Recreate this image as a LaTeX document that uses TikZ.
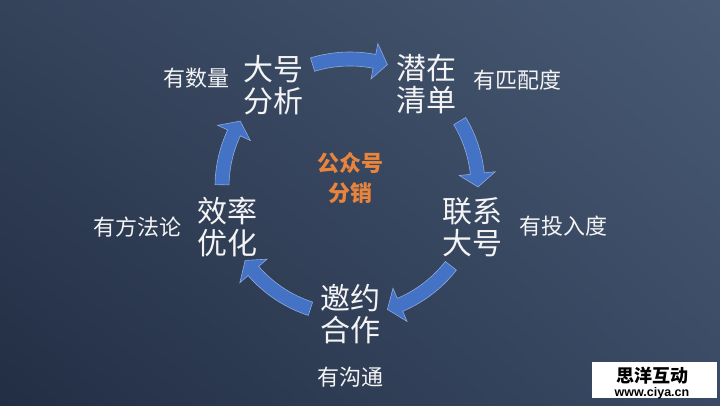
\documentclass[tikz,border=0pt]{standalone}
\usepackage{fontspec}
\newfontfamily\cjk{Noto Sans CJK SC}
\newfontfamily\wmfont{Liberation Sans}
\usetikzlibrary{calc,shadings}
\definecolor{bgul}{HTML}{34425A}
\definecolor{bgur}{HTML}{485A74}
\definecolor{bgll}{HTML}{222E44}
\definecolor{bglr}{HTML}{3A4A64}
\definecolor{arrowblue}{HTML}{4472C4}
\definecolor{arrowedge}{HTML}{8EAADE}
\definecolor{centerorange}{HTML}{E8843C}
\definecolor{textwhite}{HTML}{F4F4F4}
\tikzset{
  stagebox/.style={inner sep=0pt, align=center, text=textwhite, font=\cjk\fontsize{30}{32}\selectfont},
  notebox/.style={inner sep=0pt, text=textwhite, font=\cjk\fontsize{22}{24}\selectfont},
  centerbox/.style={inner sep=0pt, align=center, text=centerorange, font=\cjk\bfseries\fontsize{22}{30}\selectfont},
  cyclearrow/.style={fill=arrowblue, draw=arrowedge, line width=0.6pt, line join=miter},
}
\newcommand\cycarrow[2]{%
  \pgfmathsetmacro\hb{#2+6}%
  \filldraw[cyclearrow] ($(C)+(#1:135)$) arc[start angle=#1, end angle=\hb, radius=135pt]
    -- ($(C)+(\hb:146)$) -- ($(C)+(#2:128)$) -- ($(C)+(\hb:110)$) -- ($(C)+(\hb:121)$)
    arc[start angle=\hb, end angle=#1, radius=121pt] -- cycle;
}
\begin{document}
\begin{tikzpicture}[x=1pt,y=1pt]
\useasboundingbox (0,0) rectangle (720,405);
\shade[upper left=bgul, upper right=bgur, lower left=bgll, lower right=bglr] (0,0) rectangle (720,405);
\coordinate (C) at (350,218);
% cycle arrows
\cycarrow{107}{73}
\cycarrow{31}{0}
\cycarrow{-38}{-73}
\cycarrow{-108}{-145}
\cycarrow{179}{149}
% stages
\node[stagebox] (n1) at (273,320) {大号\\分析};
\node[stagebox] (n2) at (426,321) {潜在\\清单};
\node[stagebox] (n3) at (472,178) {联系\\大号};
\node[stagebox] (n4) at (350,91) {邀约\\合作};
\node[stagebox] (n5) at (227,178) {效率\\优化};
% notes
\node[notebox] (l1) at (196,327) {有数量};
\node[notebox] (l2) at (517,325) {有匹配度};
\node[notebox] (l3) at (563,179) {有投入度};
\node[notebox] (l4) at (350,28) {有沟通};
\node[notebox] (l5) at (137,178) {有方法论};
% center
\node[centerbox] (ctr) at (350,227) {公众号\\分销};
% watermark
\node[fill=white, minimum width=125pt, minimum height=36pt, inner sep=0pt] (wm) at (654.5,25) {};
\node[inner sep=0pt, font=\cjk\bfseries\fontsize{18}{18}\selectfont, text=black] (wmt) at (652,29) {思洋互动};
\node[inner sep=0pt, font=\wmfont\bfseries\fontsize{12.5}{12.5}\selectfont, text=black] (wmu) at (652,12) {www.ciya.cn};
\end{tikzpicture}
\end{document}
